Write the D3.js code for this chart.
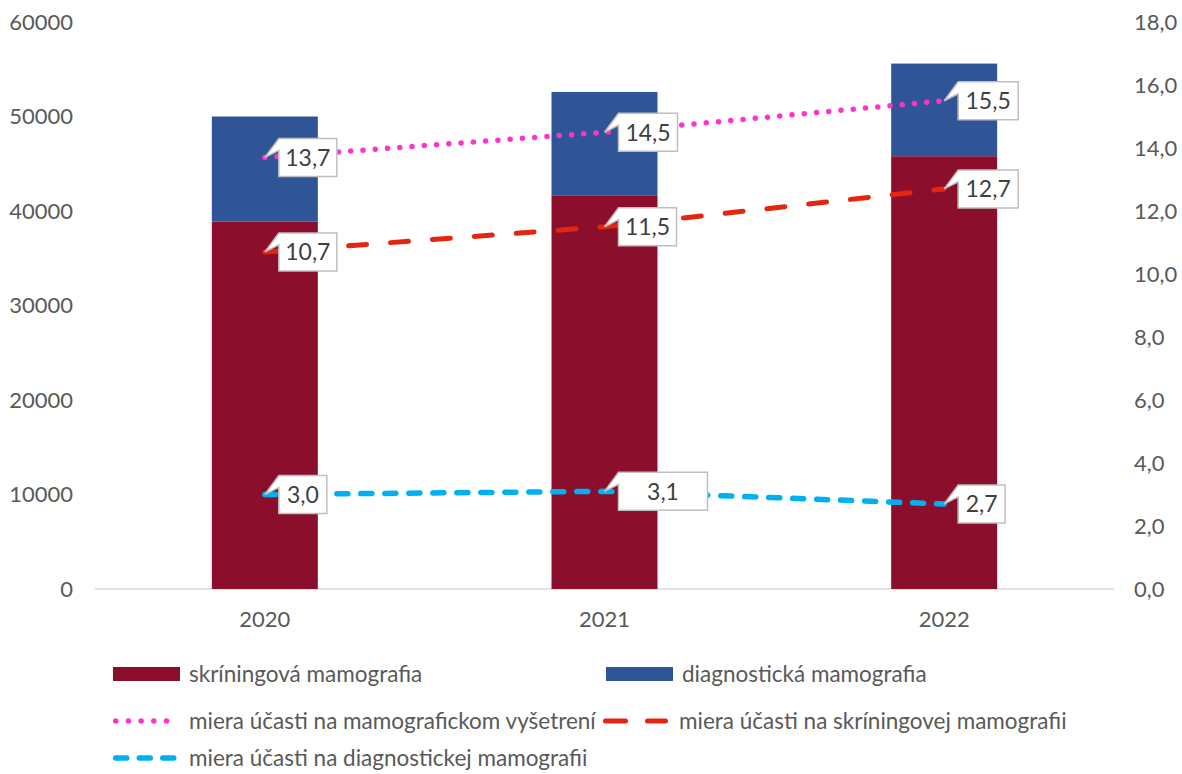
<!DOCTYPE html>
<html><head><meta charset="utf-8">
<script src="https://cdn.jsdelivr.net/npm/d3@7"></script>
<style>
html,body{margin:0;padding:0;background:#fff;}
svg{display:block;font-family:Lato,"Liberation Sans",sans-serif;}
</style></head>
<body>
<svg id="chart" width="1182" height="774"></svg>
<script>
// ---- data ----
const years = ["2020", "2021", "2022"];
const screeningMammo = [38900, 41600, 45800];
const diagnosticMammo = [11100, 11000, 9800];
const rateTotal = [13.7, 14.5, 15.5];
const rateScreening = [10.7, 11.5, 12.7];
const rateDiagnostic = [3.0, 3.1, 2.7];
const leftTicks = [0, 10000, 20000, 30000, 40000, 50000, 60000];
const rightTicks = [0, 2, 4, 6, 8, 10, 12, 14, 16, 18];
const seriesNames = ["skríningová mamografia", "diagnostická mamografia",
  "miera účasti na mamografickom vyšetrení", "miera účasti na skríningovej mamografii",
  "miera účasti na diagnostickej mamografii"];

// ---- layout / style ----
const C = {screen: "#8b0f2d", diag: "#2f5597", pink: "#ff33cc", red: "#e3260f", blue: "#00b0f0",
  text: "#595959", label: "#404040", axis: "#d9d9d9"};
const labelBoxWidths = [[58, 59, 60], [58, 58, 60], [48, 89, 47]];
const FONT = "Lato,'Liberation Sans',sans-serif";

const svg = d3.select("#chart");
const x = d3.scaleBand().domain(years).range([95, 1114]).paddingInner(0.688).paddingOuter(0.344);
const yL = d3.scaleLinear().domain([0, 60000]).range([589, 22]);
const yR = d3.scaleLinear().domain([0, 18]).range([589, 22]);
const cx = d => x(d) + x.bandwidth() / 2;
const fmt = v => d3.format(".1f")(v).replace(".", ",");

// baseline
svg.append("line").attr("x1", 95).attr("x2", 1114).attr("y1", yL(0)).attr("y2", yL(0))
  .attr("stroke", C.axis).attr("stroke-width", 1.5);

// left axis
const axL = svg.append("g").attr("transform", "translate(73,0)")
  .call(d3.axisLeft(yL).tickValues(leftTicks).tickSize(0).tickPadding(0).tickFormat(d3.format("d")));
axL.select(".domain").remove();
axL.selectAll("text").attr("fill", C.text).style("font-size", "22px").style("font-family", FONT);

// right axis
const axR = svg.append("g").attr("transform", "translate(1134,0)")
  .call(d3.axisRight(yR).tickValues(rightTicks).tickSize(0).tickPadding(0).tickFormat(fmt));
axR.select(".domain").remove();
axR.selectAll("text").attr("fill", C.text).style("font-size", "22px").style("font-family", FONT);

// x axis
const axX = svg.append("g").attr("transform", `translate(0,${yL(0)})`)
  .call(d3.axisBottom(x).tickSize(0).tickPadding(22));
axX.select(".domain").remove();
axX.selectAll("text").attr("fill", C.text).style("font-size", "22px").style("font-family", FONT);

// stacked bars
const stackData = years.map((y, i) => ({year: y, s: screeningMammo[i], d: diagnosticMammo[i]}));
const stack = d3.stack().keys(["s", "d"])(stackData);
const barColors = [C.screen, C.diag];
svg.append("g").selectAll("g").data(stack).join("g").attr("fill", (d, i) => barColors[i])
  .selectAll("rect").data(d => d).join("rect")
  .attr("x", d => x(d.data.year)).attr("width", x.bandwidth())
  .attr("y", d => yL(d[1])).attr("height", d => yL(d[0]) - yL(d[1]));

// lines
const lineSeries = [
  {vals: rateTotal, color: C.pink, w: 5.5, dash: "0 12.3"},
  {vals: rateScreening, color: C.red, w: 5, dash: "18 24"},
  {vals: rateDiagnostic, color: C.blue, w: 5.5, dash: "11 13"}
];
const line = d3.line().x(d => cx(d.year)).y(d => yR(d.v));
lineSeries.forEach(s => {
  svg.append("path").datum(years.map((y, i) => ({year: y, v: s.vals[i]})))
    .attr("d", line).attr("fill", "none").attr("stroke", s.color)
    .attr("stroke-width", s.w).attr("stroke-dasharray", s.dash).attr("stroke-linecap", "round");
});

// data labels (callouts)
const lg = svg.append("g");
lineSeries.forEach((s, si) => {
  years.forEach((y, i) => {
    const px = cx(y), py = yR(s.vals[i]);
    const w = labelBoxWidths[si][i], h = 38;
    const bx = px + 14, by = py - h / 2;
    lg.append("path")
      .attr("d", `M${bx},${by}H${bx + w}V${by + h}H${bx}V${by + 12}L${px},${py}Z`)
      .attr("fill", "#fff").attr("stroke", "#bfbfbf").attr("stroke-width", 1.5);
    lg.append("text").attr("x", bx + w / 2).attr("y", py).attr("dy", "0.36em")
      .attr("text-anchor", "middle").attr("fill", C.label).style("font-size", "23px")
      .text(fmt(s.vals[i]));
  });
});

// legend
const leg = svg.append("g");
const legItems = [
  {x: 113, y: 674, type: "rect", color: C.screen, text: seriesNames[0]},
  {x: 606, y: 674, type: "rect", color: C.diag, text: seriesNames[1]},
  {x: 113, y: 721, type: "line", color: C.pink, w: 5.5, dash: "0 12.7", text: seriesNames[2]},
  {x: 603, y: 721, type: "line", color: C.red, w: 5, dash: "20 22", text: seriesNames[3]},
  {x: 113, y: 758, type: "line", color: C.blue, w: 5.5, dash: "11 12.5", text: seriesNames[4]}
];
legItems.forEach(it => {
  if (it.type === "rect") {
    leg.append("rect").attr("x", it.x).attr("y", it.y - 7).attr("width", 67).attr("height", 14).attr("fill", it.color);
  } else {
    const x0 = it.x + it.w / 2, x1 = it.x + 65 - it.w / 2;
    leg.append("line").attr("x1", x0).attr("x2", x1).attr("y1", it.y).attr("y2", it.y)
      .attr("stroke", it.color).attr("stroke-width", it.w).attr("stroke-dasharray", it.dash)
      .attr("stroke-linecap", "round");
  }
  leg.append("text").attr("x", it.x + 76).attr("y", it.y).attr("dy", "0.36em")
    .attr("fill", C.text).style("font-size", "22.5px").text(it.text);
});
</script>
</body></html>
